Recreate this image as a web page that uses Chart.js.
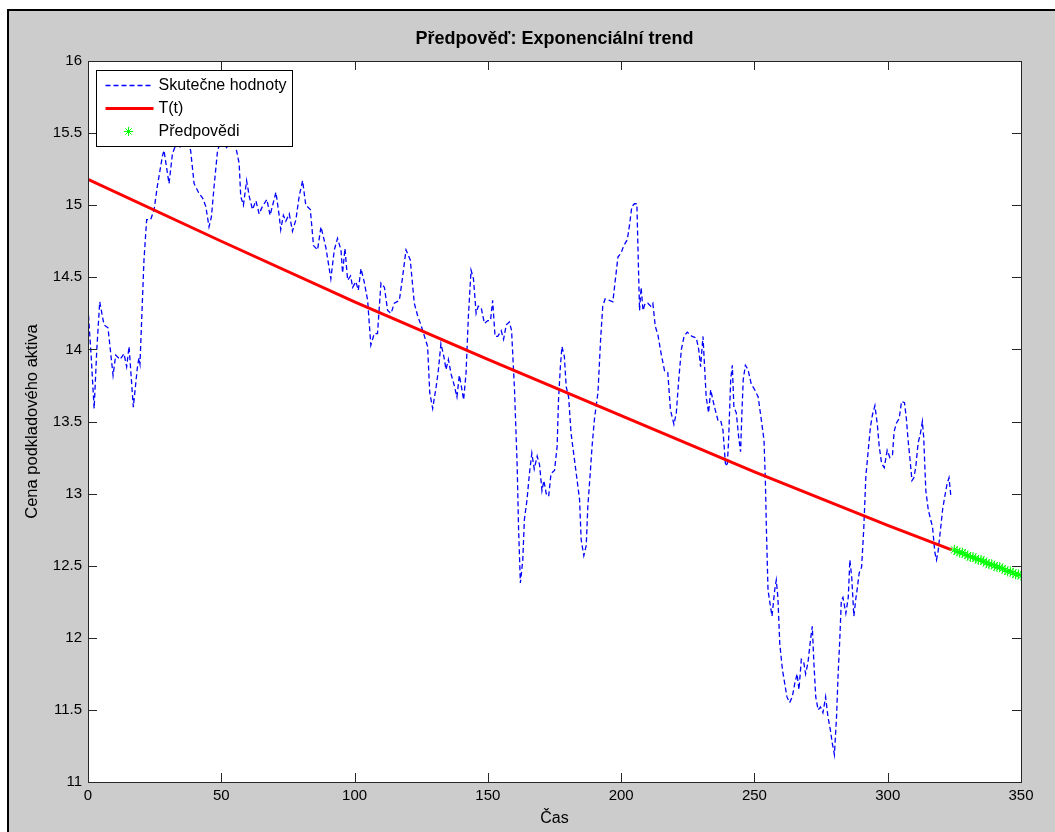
<!DOCTYPE html>
<html>
<head>
<meta charset="utf-8">
<script src="https://cdn.jsdelivr.net/npm/chart.js@4"></script>
<style>
  body { margin: 0; background: #fff; }
  #okno { position: absolute; left: 7px; top: 9px; right: 0; bottom: 0; background: #ccc; border-left: 2px solid #000; border-top: 2px solid #000; }
  #graf { position: absolute; left: 0; top: 0; }
</style>
</head>
<body>
<div id="okno"></div>
<canvas id="graf" width="1055" height="832"></canvas>
<script>
// skutecne hodnoty (cas, cena)
const casSkutecne = [
  0, 1.2, 2.3, 3.3, 4.4, 6, 7.5, 9.4, 10.4, 12, 13.5, 14.5, 15.4, 17, 18.5, 19.1, 19.5, 21, 22, 23.5,
  24.8, 26, 27.9, 28.5, 30.4, 31.7, 33, 35, 37, 38.5, 39.8, 41.7, 43, 44.2, 45.4, 46.3, 47.3, 48.6, 50, 52,
  54, 55.5, 56.7, 57.3, 58.3, 59.5, 60.5, 61.7, 63, 64.2, 65.4, 67.1, 68.3, 70.5, 71.7, 72.3, 73.3, 74.2, 75.5, 76.7,
  78, 79.2, 80.5, 81.7, 83.4, 84.6, 86.1, 87.4, 89.2, 91.1, 92.4, 93.6, 94.9, 95.5, 96.4, 97.4, 98.5, 99.3, 100.5, 101.4,
  102.4, 103.6, 104.9, 106.1, 107.4, 108.6, 109.9, 111.2, 112.4, 113.7, 114.9, 116.8, 118, 119.3, 120.9, 122.4, 123.7, 124.9, 126.4, 127.4,
  128.2, 129.3, 130.6, 131.4, 132.4, 133.5, 134.3, 135.2, 136.2, 137.4, 138.4, 139.3, 140.2, 140.9, 141.8, 142.7, 143.7, 144.6, 145.6, 146.4,
  147.5, 148.7, 150, 151, 151.8, 152.7, 153.7, 155, 155.9, 156.9, 158.1, 158.9, 160, 161, 161.5, 162.2, 163.1, 163.7, 164.7, 165.6,
  166.5, 167.4, 168.5, 169.4, 170.3, 171, 171.9, 172.8, 173.7, 175, 176, 176.5, 177.2, 177.8, 178.7, 179.4, 180.3, 181.2, 183.5, 184.4,
  185, 186, 186.9, 187.5, 188.4, 189.1, 190, 191.3, 192.3, 193.1, 194, 195.6, 196.9, 197.8, 198.8, 200, 201, 202.3, 203.2, 204,
  205, 205.9, 206.3, 206.9, 207.5, 208.2, 209, 210, 211.1, 211.9, 212.8, 213.8, 215, 216.3, 217.5, 218.5, 219.8, 220.7, 221.6, 222.6,
  223.6, 224.8, 226.6, 228.2, 229.1, 229.8, 230.7, 231.3, 231.9, 232.8, 233.6, 234.4, 235.3, 236.3, 237.3, 238.2, 239.1, 239.8, 240.3, 241.1,
  241.7, 242.3, 243.2, 244.1, 244.8, 245.3, 245.8, 246.6, 247.6, 248.8, 250.1, 251.4, 252.6, 253.6, 254.1, 254.5, 255.1, 256, 256.6, 257.6,
  258.2, 258.8, 259.5, 260.5, 261.3, 262.2, 263.2, 264.2, 265.1, 266, 266.7, 267.6, 268.5, 269.2, 270.1, 271, 271.7, 272.3, 273, 273.9,
  274.8, 275.7, 276.7, 277.6, 278.5, 279.2, 280, 280.8, 281.4, 282, 282.6, 283.2, 284.3, 285.2, 285.8, 286.5, 287.3, 288.1, 288.5, 289.3,
  290.2, 291, 291.8, 292.6, 293.5, 294.3, 295.2, 296.1, 296.8, 297.7, 298.7, 299.8, 300.8, 301.8, 302.4, 303.3, 304.3, 305.2, 306.3, 307,
  307.6, 308.3, 309.1, 309.8, 310.5, 311.4, 312.3, 313, 313.5, 314.3, 315.2, 316.1, 316.8, 317.7, 318.3, 318.9, 319.8, 320.6, 321.4, 322.3,
  323, 323.7
];
const hodnotySkutecne = [
  14.29, 13.95, 13.59, 14.0, 14.33, 14.17, 14.15, 13.82, 13.96, 13.93, 13.97, 13.88, 14.02, 13.60, 13.87, 13.94, 13.90, 14.62, 14.90, 14.90,
  14.97, 15.13, 15.34, 15.38, 15.15, 15.36, 15.42, 15.40, 15.45, 15.38, 15.15, 15.08, 15.05, 14.99, 14.85, 14.92, 15.13, 15.38, 15.45, 15.40,
  15.46, 15.40, 15.29, 15.06, 15.00, 15.17, 15.06, 14.97, 15.03, 14.94, 14.99, 15.04, 14.93, 15.09, 14.93, 14.83, 14.93, 14.89, 14.94, 14.82,
  14.90, 15.06, 15.17, 15.00, 14.97, 14.72, 14.69, 14.85, 14.71, 14.49, 14.69, 14.77, 14.69, 14.53, 14.70, 14.48, 14.51, 14.43, 14.47, 14.41,
  14.56, 14.47, 14.34, 14.03, 14.11, 14.11, 14.46, 14.43, 14.27, 14.25, 14.32, 14.34, 14.50, 14.69, 14.62, 14.32, 14.23, 14.17, 14.08, 14.02,
  13.70, 13.59, 13.74, 13.85, 14.04, 13.95, 13.86, 13.93, 13.83, 13.75, 13.67, 13.82, 13.73, 13.65, 13.83, 14.23, 14.55, 14.49, 14.25, 14.30,
  14.29, 14.18, 14.20, 14.20, 14.34, 14.09, 14.09, 14.13, 14.07, 14.17, 14.19, 14.13, 13.72, 13.19, 12.77, 12.38, 12.54, 12.82, 12.96, 13.14,
  13.28, 13.17, 13.26, 13.20, 13.02, 13.09, 13.00, 12.98, 13.14, 13.16, 13.33, 13.65, 13.88, 14.02, 13.95, 13.74, 13.67, 13.42, 13.09, 12.96,
  12.68, 12.57, 12.64, 12.91, 13.14, 13.33, 13.52, 13.70, 14.07, 14.30, 14.35, 14.34, 14.33, 14.48, 14.64, 14.67, 14.72, 14.76, 14.87, 14.99,
  15.01, 15.01, 14.71, 14.27, 14.43, 14.27, 14.32, 14.32, 14.30, 14.32, 14.16, 14.10, 13.97, 13.85, 13.84, 13.58, 13.48, 13.56, 13.79, 14.00,
  14.09, 14.12, 14.09, 14.08, 14.00, 13.88, 14.09, 13.88, 13.67, 13.56, 13.72, 13.65, 13.58, 13.51, 13.51, 13.44, 13.21, 13.19, 13.37, 13.79,
  13.89, 13.60, 13.56, 13.39, 13.29, 13.56, 13.79, 13.89, 13.86, 13.76, 13.72, 13.67, 13.51, 13.37, 13.09, 12.75, 12.33, 12.22, 12.15, 12.33,
  12.40, 12.28, 11.96, 11.78, 11.69, 11.59, 11.55, 11.59, 11.68, 11.75, 11.64, 11.85, 11.83, 11.75, 11.83, 11.98, 12.08, 11.83, 11.59, 11.50,
  11.52, 11.48, 11.59, 11.45, 11.36, 11.27, 11.19, 11.45, 11.75, 11.98, 12.26, 12.28, 12.17, 12.28, 12.54, 12.42, 12.15, 12.28, 12.33, 12.45,
  12.49, 12.75, 13.12, 13.28, 13.46, 13.55, 13.61, 13.48, 13.33, 13.21, 13.18, 13.30, 13.25, 13.27, 13.43, 13.49, 13.52, 13.64, 13.63, 13.52,
  13.38, 13.25, 13.09, 13.11, 13.18, 13.35, 13.42, 13.50, 13.39, 13.02, 12.89, 12.82, 12.77, 12.59, 12.54, 12.60, 12.75, 12.89, 12.98, 13.07,
  13.11, 12.98
];

// exponencialni trend T(t)
const casTrend = [0, 50, 100, 150, 200, 250, 300, 324];
const hodnotyTrend = [15.18, 14.75, 14.33, 13.93, 13.54, 13.15, 12.78, 12.61];

// predpovedi
const casPredpovedi = [325, 326, 327, 328, 329, 330, 331, 332, 333, 334, 335, 336, 337, 338, 339, 340, 341, 342, 343, 344, 345, 346, 347, 348, 349, 350];
const hodnotyPredpovedi = [12.61, 12.60, 12.59, 12.59, 12.58, 12.57, 12.56, 12.56, 12.55, 12.54, 12.54, 12.53, 12.52, 12.51, 12.51, 12.50, 12.49, 12.49, 12.48, 12.47, 12.46, 12.46, 12.45, 12.44, 12.44, 12.43];

const popisky = ['Skutečne hodnoty', 'T(t)', 'Předpovědi'];
const nadpis = 'Předpověď: Exponenciální trend';

const body = (xs, ys) => xs.map((x, i) => ({ x: x, y: ys[i] }));
const pismo = '"Liberation Sans", Arial, sans-serif';

// matlabovske osy: bile pozadi, ramecek, ticky dovnitr, legenda v rohu
const matlabOsy = {
    id: 'matlabOsy',
    beforeDraw(chart) {
        const { ctx, chartArea: a } = chart;
        ctx.save();
        ctx.fillStyle = '#fff';
        ctx.fillRect(a.left, a.top, a.right - a.left, a.bottom - a.top);
        ctx.restore();
    },
    afterDatasetsDraw(chart) {
        const { ctx, chartArea: a, scales: { x, y } } = chart;
        ctx.save();
        ctx.strokeStyle = '#262626';
        ctx.lineWidth = 1;
        ctx.beginPath();
        x.ticks.forEach(t => {
            const px = Math.round(x.getPixelForValue(t.value)) + 0.5;
            ctx.moveTo(px, a.bottom); ctx.lineTo(px, a.bottom - 9);
            ctx.moveTo(px, a.top); ctx.lineTo(px, a.top + 9);
        });
        y.ticks.forEach(t => {
            const py = Math.round(y.getPixelForValue(t.value)) + 0.5;
            ctx.moveTo(a.left, py); ctx.lineTo(a.left + 9, py);
            ctx.moveTo(a.right, py); ctx.lineTo(a.right - 9, py);
        });
        ctx.stroke();
        ctx.strokeRect(Math.round(a.left) + 0.5, Math.round(a.top) + 0.5, Math.round(a.right - a.left), Math.round(a.bottom - a.top));

        // legenda
        const lx = Math.round(a.left) + 8.5, ly = Math.round(a.top) + 9.5;
        ctx.fillStyle = '#fff';
        ctx.fillRect(lx, ly, 196, 76);
        ctx.strokeStyle = '#000';
        ctx.strokeRect(lx, ly, 196, 76);
        ctx.font = '16px ' + pismo;
        ctx.textBaseline = 'middle';
        ctx.textAlign = 'left';
        chart.data.datasets.forEach((ds, i) => {
            const ry = ly + 15 + i * 23;
            ctx.save();
            if (ds.showLine === false) {
                ctx.strokeStyle = ds.pointBorderColor;
                ctx.lineWidth = 1;
                const r = 4.5, cx = lx + 32;
                ctx.beginPath();
                for (let k = 0; k < 4; k++) {
                    const ang = k * Math.PI / 4;
                    ctx.moveTo(cx - r * Math.cos(ang), ry - r * Math.sin(ang));
                    ctx.lineTo(cx + r * Math.cos(ang), ry + r * Math.sin(ang));
                }
                ctx.stroke();
            } else {
                ctx.strokeStyle = ds.borderColor;
                ctx.lineWidth = ds.borderWidth;
                ctx.setLineDash(ds.borderDash || []);
                ctx.beginPath();
                ctx.moveTo(lx + 9, ry);
                ctx.lineTo(lx + 57, ry);
                ctx.stroke();
            }
            ctx.restore();
            ctx.fillStyle = '#000';
            ctx.fillText(ds.label, lx + 62, ry);
        });
        ctx.restore();
    }
};

new Chart(document.getElementById('graf'), {
    type: 'line',
    data: {
        datasets: [{
            label: popisky[0],
            data: body(casSkutecne, hodnotySkutecne),
            borderColor: '#0000ff',
            borderWidth: 1.3,
            borderDash: [5, 3],
            pointRadius: 0,
            order: 3
        }, {
            label: popisky[1],
            data: body(casTrend, hodnotyTrend),
            borderColor: '#ff0000',
            borderWidth: 3,
            pointRadius: 0,
            order: 2
        }, {
            label: popisky[2],
            data: body(casPredpovedi, hodnotyPredpovedi),
            showLine: false,
            pointStyle: 'star',
            pointRadius: 5,
            pointBorderWidth: 1,
            pointBorderColor: '#00ff00',
            pointBackgroundColor: '#00ff00',
            order: 1
        }]
    },
    options: {
        responsive: false,
        animation: false,
        layout: {
            padding: { left: 0, right: 34, top: 0, bottom: 0 }
        },
        plugins: {
            legend: { display: false },
            tooltip: { enabled: false },
            title: {
                display: true,
                text: nadpis,
                fullSize: false,
                color: '#000',
                font: { family: pismo, size: 18, weight: 'bold' },
                padding: { top: 28.6, bottom: 10.8 }
            }
        },
        scales: {
            x: {
                type: 'linear',
                min: 0,
                max: 350,
                afterFit: s => { s.height = 50; },
                grid: { display: false, drawTicks: false },
                border: { display: false },
                ticks: {
                    stepSize: 50,
                    padding: 5,
                    color: '#000',
                    font: { family: pismo, size: 15 },
                    callback: v => String(v)
                },
                title: {
                    display: true,
                    text: 'Čas',
                    color: '#000',
                    font: { family: pismo, size: 16 },
                    padding: { top: 0, bottom: 4 }
                }
            },
            y: {
                min: 11,
                max: 16,
                afterFit: s => { s.width = 88; },
                grid: { display: false, drawTicks: false },
                border: { display: false },
                ticks: {
                    stepSize: 0.5,
                    padding: 6,
                    color: '#000',
                    font: { family: pismo, size: 15 },
                    callback: v => String(v)
                },
                title: {
                    display: true,
                    text: 'Cena podkladového aktiva',
                    color: '#000',
                    font: { family: pismo, size: 16.5 },
                    padding: { top: 23, bottom: 0 }
                }
            }
        }
    },
    plugins: [matlabOsy]
});
</script>
</body>
</html>
